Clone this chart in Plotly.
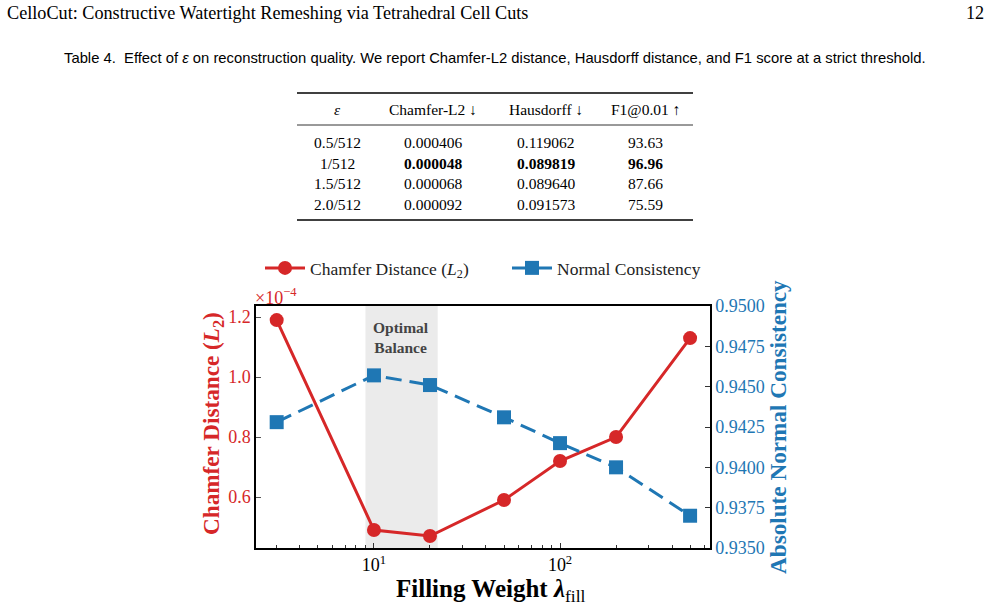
import plotly.graph_objects as go
import numpy as np

W, H = 991, 610

# ---------------- data ----------------
lambda_fill = [3, 10, 20, 50, 100, 200, 500]
chamfer_e4 = [1.19, 0.49, 0.47, 0.59, 0.72, 0.80, 1.13]
normal_consistency = [0.9428, 0.9457, 0.9451, 0.9431, 0.9415, 0.9400, 0.9370]
optimal_band = [9, 22]

left_ticks = [0.6, 0.8, 1.0, 1.2]
right_ticks = [0.9350, 0.9375, 0.9400, 0.9425, 0.9450, 0.9475, 0.9500]
x_major = [10, 100]
x_major_text = ["10<sup>1</sup>", "10<sup>2</sup>"]
x_minor = [3, 4, 5, 6, 7, 8, 9, 20, 30, 40, 50, 60, 70, 80, 90, 200, 300, 400, 500, 600]

table_header = ["<i>ε</i>", "Chamfer-L2 ↓", "Hausdorff ↓", "F1@0.01 ↑"]
table_eps = ["0.5/512", "1/512", "1.5/512", "2.0/512"]
table_chamfer = ["0.000406", "0.000048", "0.000068", "0.000092"]
table_hausdorff = ["0.119062", "0.089819", "0.089640", "0.091573"]
table_f1 = ["93.63", "96.96", "87.66", "75.59"]
best_row = 1

RED = "#d62728"
BLUE = "#1f77b4"
SERIF = "Liberation Serif"


def px(x):
    return x / W


def py(y):
    return 1 - y / H


fig = go.Figure()

fig.add_trace(go.Scatter(
    x=lambda_fill, y=chamfer_e4, mode="lines+markers",
    name="Chamfer Distance (<i>L</i><sub>2</sub>)",
    line=dict(color=RED, width=3),
    marker=dict(symbol="circle", size=14, color=RED),
    xaxis="x", yaxis="y",
))
fig.add_trace(go.Scatter(
    x=lambda_fill, y=normal_consistency, mode="lines+markers",
    name="Normal Consistency",
    line=dict(color=BLUE, width=3, dash="16px,8px"),
    marker=dict(symbol="square", size=14, color=BLUE),
    xaxis="x", yaxis="y2",
))

fig.add_shape(type="rect", xref="x", yref="y domain", x0=optimal_band[0], x1=optimal_band[1],
              y0=0, y1=1, fillcolor="#ebebeb", line_width=0, layer="below")

x0p, x1p = px(256), px(710)
y0p, y1p = py(548), py(306)

fig.update_layout(
    width=W, height=H,
    margin=dict(l=0, r=0, t=0, b=0, autoexpand=False),
    paper_bgcolor="white", plot_bgcolor="white",
    font=dict(family=SERIF, size=17, color="black"),
    showlegend=True,
    legend=dict(orientation="h", x=px(260), y=py(250), xanchor="left", yanchor="top",
                font=dict(family=SERIF, size=17.5, color="#222"),
                bgcolor="rgba(0,0,0,0)", itemwidth=40, entrywidth=192),
    xaxis=dict(type="log", range=[0.366, 2.806], domain=[x0p, x1p], anchor="y",
               showline=True, linecolor="black", linewidth=1.5, mirror=True,
               showgrid=False, zeroline=False, automargin=False,
               ticks="inside", ticklen=5, tickwidth=1, tickcolor="#333",
               tickmode="array", tickvals=x_major, ticktext=x_major_text,
               tickfont=dict(family=SERIF, size=18, color="black"),
               minor=dict(ticks="inside", ticklen=3, tickwidth=1, tickcolor="#333",
                          tickmode="array", tickvals=x_minor, showgrid=False)),
    yaxis=dict(range=[0.43, 1.237], domain=[y0p, y1p], anchor="x",
               showline=True, linecolor="black", linewidth=1.5, mirror=True,
               showgrid=False, zeroline=False, automargin=False,
               ticks="inside", ticklen=5, tickwidth=1, tickcolor="#555",
               tickmode="array", tickvals=left_ticks,
               ticktext=[f"{v:.1f}" for v in left_ticks],
               tickfont=dict(family=SERIF, size=18, color=RED)),
    yaxis2=dict(range=[0.935, 0.950], overlaying="y", side="right", anchor="x",
                showline=True, linecolor="black", linewidth=1.5,
                showgrid=False, zeroline=False, automargin=False,
                ticks="inside", ticklen=5, tickwidth=1, tickcolor="#333",
                tickmode="array", tickvals=right_ticks,
                ticktext=[f"{v:.4f}" for v in right_ticks],
                tickfont=dict(family=SERIF, size=18, color=BLUE)),
)

ann = []
# page header
ann.append(dict(text="CelloCut: Constructive Watertight Remeshing via Tetrahedral Cell Cuts",
                x=px(5), y=py(13), xanchor="left", yanchor="middle",
                font=dict(family=SERIF, size=18.2, color="black")))
ann.append(dict(text="12", x=px(986), y=py(13), xanchor="right", yanchor="middle",
                font=dict(family=SERIF, size=18.2, color="black")))
# caption
ann.append(dict(text="Table 4.  Effect of <i>ε</i> on reconstruction quality. We report Chamfer-L2 distance, "
                     "Hausdorff distance, and F1 score at a strict threshold.",
                x=px(495), y=py(58), xanchor="center", yanchor="middle",
                font=dict(family="Liberation Sans", size=14.8, color="black")))

# table
col_x = [337, 433, 546, 645]
row_y = [142, 163, 183, 204]
for cx, t in zip(col_x, table_header):
    ann.append(dict(text=t, x=px(cx), y=py(110), xanchor="center", yanchor="middle",
                    font=dict(family=SERIF, size=15.5, color="black")))
cols = [table_eps, table_chamfer, table_hausdorff, table_f1]
for ci, (cx, col) in enumerate(zip(col_x, cols)):
    for ri, (ry, v) in enumerate(zip(row_y, col)):
        txt = f"<b>{v}</b>" if (ri == best_row and ci > 0) else v
        ann.append(dict(text=txt, x=px(cx), y=py(ry), xanchor="center", yanchor="middle",
                        font=dict(family=SERIF, size=15.5, color="black")))

# chart annotations
ann.append(dict(text="<b>Optimal<br>Balance</b>", x=px(401), y=py(337), xanchor="center",
                yanchor="middle", font=dict(family=SERIF, size=15.5, color="#444"), align="center"))
ann.append(dict(text="×10<sup>−4</sup>", x=px(253), y=py(296), xanchor="left", yanchor="middle",
                font=dict(family=SERIF, size=18, color=RED)))
ann.append(dict(text="<b>Chamfer Distance (<i>L</i><sub>2</sub>)</b>", x=px(213), y=py(424),
                xanchor="center", yanchor="middle", textangle=-90,
                font=dict(family=SERIF, size=23.2, color=RED)))
ann.append(dict(text="<b>Absolute Normal Consistency</b>", x=px(778), y=py(427),
                xanchor="center", yanchor="middle", textangle=-90,
                font=dict(family=SERIF, size=23.2, color=BLUE)))
ann.append(dict(text="<b>Filling Weight <i>λ</i></b><sub>fill</sub>", x=px(491), y=py(590),
                xanchor="center", yanchor="middle",
                font=dict(family=SERIF, size=25, color="black")))
for a in ann:
    a.update(xref="paper", yref="paper", showarrow=False)

fig.update_layout(annotations=ann)
for yy, wdt in [(93, 1.5), (125, 0.8), (220, 1.5)]:
    fig.add_shape(type="line", xref="paper", yref="paper", x0=px(297), x1=px(693),
                  y0=py(yy), y1=py(yy), line=dict(color="black", width=wdt))

fig.write_html("out.html")
